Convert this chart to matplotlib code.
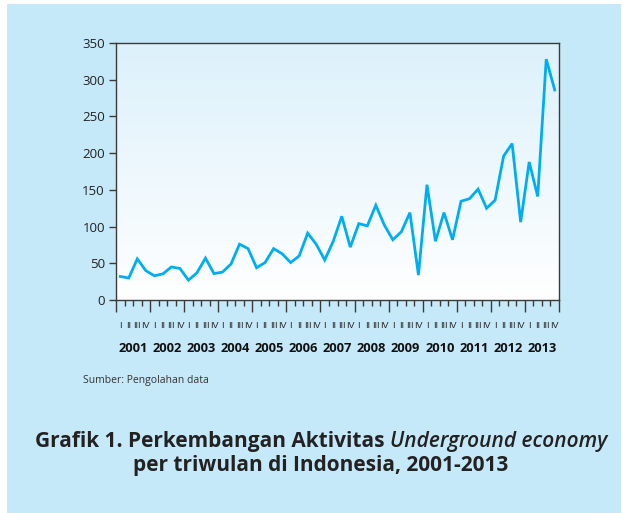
import numpy as np
import matplotlib
matplotlib.use("Agg")
import matplotlib.pyplot as plt
from matplotlib.patches import Rectangle
from matplotlib.colors import LinearSegmentedColormap
import matplotlib.transforms as mtransforms

plt.rcParams['font.family'] = ['Open Sans', 'DejaVu Sans']

years = [str(y) for y in range(2001, 2014)]
quarters = ["I", "II", "III", "IV"]
values = [32, 30, 56, 40, 33, 35.5, 45, 43,
          27, 37, 57, 36, 38, 49, 76, 70,
          44, 51, 70, 63, 51, 60, 91, 76,
          54.5, 80, 114, 72, 104, 101, 129, 102,
          82, 93, 119, 34, 157, 80, 119, 82,
          134.5, 138, 151, 125, 136, 196, 213, 106,
          188, 141, 328, 286]
yticks = [0, 50, 100, 150, 200, 250, 300, 350]

W, H = 623, 513
fig = plt.figure(figsize=(W/100, H/100), dpi=100)
fig.patch.set_facecolor("white")
bg = "#c6e9f9"
fig.add_artist(Rectangle((7/W, 0), (621-7)/W, (H-4)/H, transform=fig.transFigure,
                         facecolor=bg, edgecolor="none", zorder=-10))

left, right, top, bottom = 116, 559, 43, 300
ax = fig.add_axes([left/W, 1-bottom/H, (right-left)/W, (bottom-top)/H])
n = len(values)
ax.set_xlim(0, n)
ax.set_ylim(0, 350)

cmap = LinearSegmentedColormap.from_list("g", ["#ffffff", "#dcf1fb"])
grad = np.linspace(0, 1, 256).reshape(-1, 1)
ax.imshow(grad, cmap=cmap, aspect="auto", extent=[0, n, 0, 350], origin="lower", zorder=0)

x = np.arange(n) + 0.5
ax.plot(x, values, color="#00aeef", lw=2.0, zorder=3, solid_joinstyle="miter")

for s in ax.spines.values():
    s.set_color("#3a3a3a")
    s.set_linewidth(1.0)

ax.set_yticks(yticks)
ax.set_yticklabels([str(v) for v in yticks], fontsize=9.5, color="#222222")
ax.tick_params(axis="y", direction="out", length=5, width=1, color="#3a3a3a", pad=3)

ax.set_xticks(np.arange(0, n+1, 4))
ax.set_xticks(np.arange(0, n+1, 1), minor=True)
ax.set_xticklabels([])
ax.tick_params(axis="x", which="major", direction="out", length=8.5, width=1, color="#3a3a3a")
ax.tick_params(axis="x", which="minor", direction="out", length=4.5, width=1, color="#3a3a3a")

trans = mtransforms.blended_transform_factory(ax.transData, fig.transFigure)
for i in range(n):
    ax.text(i + 0.5, 1 - 325/H, quarters[i % 4], transform=trans, ha="center", va="center",
            fontsize=6.5, color="#222222", family=["Liberation Sans Narrow", "Liberation Sans", "DejaVu Sans"])
for j, yr in enumerate(years):
    ax.text(4*j + 2, 1 - 348/H, yr, transform=trans, ha="center", va="center",
            fontsize=9.3, fontweight="bold", color="#111111")

fig.text(83/W, 1 - 381/H, "Sumber: Pengolahan data", ha="left", va="center",
         fontsize=7.5, color="#333333")

# title
fs = 15
t1 = fig.text(0, 1 - 441/H, "Grafik 1. Perkembangan Aktivitas ", ha="left", va="center",
              fontsize=fs, fontweight="bold", color="#222222")
t2 = fig.text(0, 1 - 441/H, "Underground economy", ha="left", va="center",
              fontsize=fs, fontstyle="italic", fontweight="semibold", color="#222222")
fig.canvas.draw()
r = fig.canvas.get_renderer()
w1 = t1.get_window_extent(r).width
w2 = t2.get_window_extent(r).width
cx = 321
x0 = cx - (w1 + w2)/2
t1.set_x(x0/W)
t2.set_x((x0 + w1)/W)
fig.text(cx/W, 1 - 466/H, "per triwulan di Indonesia, 2001-2013", ha="center", va="center",
         fontsize=fs, fontweight="bold", color="#222222")

fig.savefig("out.png", dpi=100, facecolor=fig.get_facecolor())
